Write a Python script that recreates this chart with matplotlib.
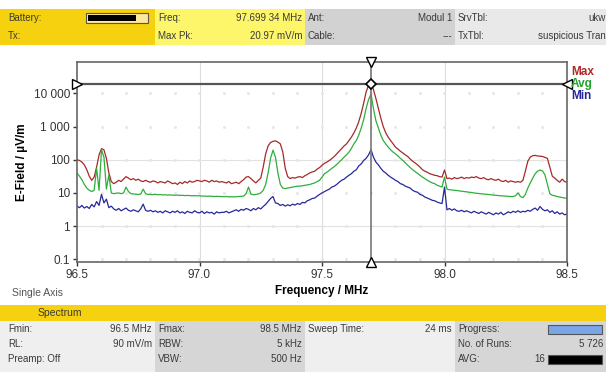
import numpy as np
import matplotlib
matplotlib.use("Agg")
import matplotlib.pyplot as plt
from matplotlib.patches import Rectangle

plt.rcParams['font.family'] = ['Liberation Sans', 'DejaVu Sans']

# Sweep 96.5 .. 98.5 MHz, one sample every 10 kHz
freq_start, freq_stop, n_samples = 96.5, 98.5, 201
freq = np.linspace(freq_start, freq_stop, n_samples)

# Max hold trace, µV/m
max_trace = [
    100, 95, 85, 70, 50, 32, 24, 30, 60, 140,
    215, 200, 110, 40, 22, 19, 21, 24, 22, 26,
    31, 28, 25, 27, 24, 26, 23, 22, 24, 22,
    21, 23, 22, 20, 22, 21, 20, 23, 21, 19,
    20, 18, 21, 19, 22, 20, 23, 21, 22, 24,
    23, 22, 24, 23, 21, 24, 22, 23, 21, 22,
    21, 20, 22, 19, 20, 21, 19, 22, 25, 30,
    31, 27, 23, 20, 24, 28, 60, 150, 260, 330,
    360, 370, 340, 300, 170, 55, 31, 27, 29, 28,
    30, 31, 29, 33, 36, 40, 43, 45, 52, 58,
    68, 78, 85, 95, 108, 125, 150, 180, 215, 260,
    300, 380, 480, 640, 900, 1400, 2500, 5000, 11000, 17500,
    20000, 13000, 7000, 3500, 1800, 1000, 650, 480, 380, 300,
    240, 210, 180, 160, 140, 125, 105, 90, 80, 70,
    60, 50, 45, 42, 38, 36, 34, 33, 31, 30,
    49, 27, 28, 26, 29, 27, 28, 30, 27, 29,
    28, 30, 29, 31, 28, 27, 29, 26, 25, 27,
    25, 24, 26, 23, 22, 24, 21, 23, 22, 21,
    22, 21, 24, 45, 90, 120, 132, 135, 130, 128,
    125, 118, 110, 60, 32, 28, 24, 21, 26, 22,
    21,
]

# Average trace
avg_trace = [
    40, 32, 25, 18, 14, 12, 11, 12, 55, 12,
    200, 120, 13, 35, 10, 9.5, 9.8, 10, 9.5, 10,
    15, 11, 9.5, 9.3, 9.2, 9.0, 9.2, 13, 9.5, 9.0,
    9.0, 8.9, 9.1, 8.8, 8.9, 8.7, 8.8, 8.6, 8.7, 8.6,
    8.5, 8.6, 8.4, 8.5, 8.3, 8.4, 8.3, 8.2, 8.3, 8.2,
    8.2, 8.0, 8.1, 7.9, 8.0, 7.9, 7.8, 7.9, 7.8, 7.8,
    7.7, 7.8, 7.6, 7.7, 7.6, 7.7, 7.8, 7.9, 8.0, 9.5,
    15, 9.2, 8.8, 9.0, 9.3, 10, 12, 18, 40, 110,
    195, 120, 40, 18, 14, 13.5, 14, 14.5, 15, 15.5,
    16, 16, 16.5, 17, 17.5, 18, 19, 20, 22, 24,
    30, 38, 42, 48, 55, 62, 72, 85, 100, 120,
    140, 170, 220, 300, 380, 550, 900, 1600, 3500, 6500,
    9500, 3500, 1500, 900, 550, 380, 300, 240, 200, 170,
    150, 130, 110, 95, 80, 68, 58, 50, 44, 39,
    34, 30, 27, 24, 22, 20, 19, 17, 16, 15,
    30, 13, 12.5, 12.3, 12, 11.8, 11.5, 11.2, 11, 10.8,
    10.5, 10.3, 10.0, 9.8, 9.6, 9.4, 9.3, 9.1, 9.0, 8.8,
    8.6, 8.5, 8.3, 8.2, 8.1, 8.0, 7.9, 7.8, 7.8, 8.2,
    10, 7.8, 7.2, 9, 14, 20, 28, 38, 45, 49,
    46, 35, 18, 9.5, 8.5, 8.2, 7.8, 7.5, 7.3, 7.0,
    7.0,
]

# Min hold trace
min_trace = [
    4.0, 3.6, 4.2, 3.5, 3.9, 3.4, 4.5, 3.8, 5.5, 4.2,
    9.0, 5.0, 6.5, 3.6, 4.0, 3.3, 3.0, 3.4, 2.9, 3.2,
    3.5, 3.0, 2.8, 3.1, 2.9, 2.7, 3.3, 4.6, 3.0, 2.8,
    3.0, 2.7, 2.9, 2.6, 2.8, 2.5, 2.9, 2.7, 2.5, 2.8,
    2.6, 2.9, 2.5, 2.7, 2.4, 2.8, 2.6, 2.5, 2.9, 2.6,
    2.5, 2.8, 2.4, 2.7, 2.5, 2.6, 2.3, 2.7, 2.5, 2.6,
    2.6, 2.8, 2.5, 2.7, 2.9, 3.1, 2.8, 3.2, 3.0, 3.4,
    3.2, 2.9, 3.4, 3.1, 3.6, 3.3, 3.9, 4.5, 5.5, 6.8,
    7.8, 5.0, 4.8, 4.2, 4.5, 4.0, 4.4, 4.1, 4.6, 4.3,
    4.8, 4.5, 5.2, 5.0, 5.8, 6.2, 6.8, 7.0, 8.0, 9.0,
    10, 11, 12, 13, 15, 16, 18, 21, 24, 26,
    30, 34, 38, 45, 50, 65, 75, 95, 110, 140,
    200, 120, 85, 70, 55, 45, 40, 34, 30, 27,
    24, 22, 19, 18, 16, 15, 14, 12, 11, 10.5,
    9.0, 8.5, 7.5, 7.0, 6.5, 6.0, 5.8, 5.3, 5.0, 4.8,
    15, 3.1, 3.4, 3.0, 3.3, 2.9, 2.8, 3.0, 2.7, 2.9,
    2.7, 2.5, 2.8, 2.6, 2.4, 2.7, 2.5, 2.3, 2.6, 2.4,
    2.2, 2.5, 2.3, 2.6, 2.2, 2.4, 2.7, 2.5, 2.8, 2.6,
    2.9, 2.6, 2.8, 2.7, 3.0, 2.8, 3.2, 3.5, 3.0, 3.9,
    3.2, 2.9, 3.1, 2.6, 2.9, 2.4, 2.7, 2.3, 2.5, 2.2,
    2.3,
]

marker_freq = 97.69934
marker_level = 19000
y_ticks = [0.1, 1, 10, 100, 1000, 10000]
y_tick_labels = ['0.1', '1', '10', '100', '1 000', '10 000']
x_ticks = [96.5, 97.0, 97.5, 98.0, 98.5]
x_tick_labels = ['96.5', '97.0', '97.5', '98.0', '98.5']

W, H = 606, 372
fig = plt.figure(figsize=(W / 100, H / 100), dpi=100)


def box(x0, y0, x1, y1, color):
    fig.patches.append(Rectangle((x0 / W, 1 - y1 / H), (x1 - x0) / W, (y1 - y0) / H,
                                 transform=fig.transFigure, facecolor=color,
                                 edgecolor='none', zorder=0))


def txt(x, y, s, ha='left', **kw):
    kw.setdefault('fontsize', 7)
    kw.setdefault('color', '#3a3a3a')
    fig.text(x / W, 1 - y / H, s, ha=ha, va='center', **kw)


# header panels
box(0, 9, 155, 45, '#f5d10f')
box(155, 9, 305, 45, '#fdf66a')
box(305, 9, 455, 45, '#d2d2d2')
box(455, 9, 606, 45, '#e9e9e9')
txt(8, 18, 'Battery:')
txt(8, 36, 'Tx:')
fig.patches.append(Rectangle((86 / W, 1 - 23 / H), 62 / W, 10 / H, transform=fig.transFigure,
                             facecolor='#fbe89a', edgecolor='#555555', lw=0.8))
fig.patches.append(Rectangle((88 / W, 1 - 21 / H), 48 / W, 6 / H, transform=fig.transFigure,
                             facecolor='black', edgecolor='none'))
txt(158, 18, 'Freq:')
txt(302, 18, '97.699 34 MHz', ha='right')
txt(158, 36, 'Max Pk:')
txt(302, 36, '20.97 mV/m', ha='right')
txt(308, 18, 'Ant:')
txt(452, 18, 'Modul 1', ha='right')
txt(308, 36, 'Cable:')
txt(452, 36, '---', ha='right')
txt(458, 18, 'SrvTbl:')
txt(606, 18, 'ukw', ha='right')
txt(458, 36, 'TxTbl:')
txt(606, 36, 'suspicious Tran', ha='right')

# footer panels
box(0, 305, 606, 321, '#f5d10f')
box(0, 321, 155, 372, '#efefef')
box(155, 321, 305, 372, '#d6d6d6')
box(305, 321, 455, 372, '#efefef')
box(455, 321, 606, 372, '#d6d6d6')
txt(38, 313, 'Spectrum', fontsize=7.5)
txt(12, 293, 'Single Axis', fontsize=7.5, color='#555555')
rows = [329, 344, 359]
txt(8, rows[0], 'Fmin:')
txt(152, rows[0], '96.5 MHz', ha='right')
txt(8, rows[1], 'RL:')
txt(152, rows[1], '90 mV/m', ha='right')
txt(8, rows[2], 'Preamp: Off')
txt(158, rows[0], 'Fmax:')
txt(302, rows[0], '98.5 MHz', ha='right')
txt(158, rows[1], 'RBW:')
txt(302, rows[1], '5 kHz', ha='right')
txt(158, rows[2], 'VBW:')
txt(302, rows[2], '500 Hz', ha='right')
txt(308, rows[0], 'Sweep Time:')
txt(452, rows[0], '24 ms', ha='right')
txt(458, rows[0], 'Progress:')
txt(458, rows[1], 'No. of Runs:')
txt(603, rows[1], '5 726', ha='right')
txt(458, rows[2], 'AVG:')
txt(545, rows[2], '16', ha='right')
fig.patches.append(Rectangle((548 / W, 1 - 334 / H), 54 / W, 9 / H, transform=fig.transFigure,
                             facecolor='#7aa6e8', edgecolor='#555555', lw=0.8))
fig.patches.append(Rectangle((548 / W, 1 - 364 / H), 54 / W, 9 / H, transform=fig.transFigure,
                             facecolor='black', edgecolor='#555555', lw=0.8))

# plot area
ax = fig.add_axes([77 / W, 1 - 262 / H, 490 / W, 200 / H])
ax.set_yscale('log')
ax.set_xlim(freq_start, freq_stop)
ax.set_ylim(0.083, 88000)

for xv in x_ticks[1:-1]:
    ax.axvline(xv, color='#dcdcdc', lw=0.8, zorder=0)
for yv in [1, 100]:
    ax.axhline(yv, color='#e2e2e2', lw=0.8, zorder=0)
dots_x = np.arange(96.6, 98.45, 0.1)
for yv in y_ticks:
    ax.plot(dots_x, [yv] * len(dots_x), ls='none', marker='s', ms=1.0,
            color='#e6e6e6', zorder=0)

ax.plot(freq, max_trace, color='#a52a2a', lw=0.9)
ax.plot(freq, avg_trace, color='#2fae3c', lw=0.9)
ax.plot(freq, min_trace, color='#28289a', lw=0.9)

# marker cross
ax.axhline(marker_level, color='#555555', lw=1.6, zorder=3)
ax.axvline(marker_freq, color='#777777', lw=1.2, zorder=3)
ax.plot([freq_start], [marker_level], marker='>', ms=7, mfc='white', mec='black',
        clip_on=False, zorder=5)
ax.plot([freq_stop], [marker_level], marker='<', ms=7, mfc='white', mec='black',
        clip_on=False, zorder=5)
ax.plot([marker_freq], [marker_level], marker='D', ms=5, mfc='white', mec='black',
        mew=1.2, zorder=5)
ax.plot([marker_freq], [88000], marker='v', ms=7, mfc='white', mec='black',
        clip_on=False, zorder=5)
ax.plot([marker_freq], [0.083], marker='^', ms=7, mfc='white', mec='black',
        clip_on=False, zorder=5)

ax.set_yticks(y_ticks)
ax.set_yticklabels(y_tick_labels)
ax.minorticks_off()
ax.set_xticks(x_ticks)
ax.set_xticklabels(x_tick_labels)
ax.tick_params(labelsize=8.5, colors='#333333', length=3, width=1, pad=2)
for sp in ax.spines.values():
    sp.set_color('#666666')
    sp.set_linewidth(1.2)

ax.set_ylabel('E-Field / µV/m', fontsize=8.5, fontweight='bold', labelpad=4)
ax.set_xlabel('Frequency / MHz', fontsize=8.5, fontweight='bold', labelpad=3)

# trace legend
txt(571, 72, 'Max', fontsize=8.5, color='#b02828', fontweight='bold')
txt(571, 84, 'Avg', fontsize=8.5, color='#22a22e', fontweight='bold')
txt(571, 96, 'Min', fontsize=8.5, color='#262696', fontweight='bold')

fig.savefig('out.png', dpi=100)
